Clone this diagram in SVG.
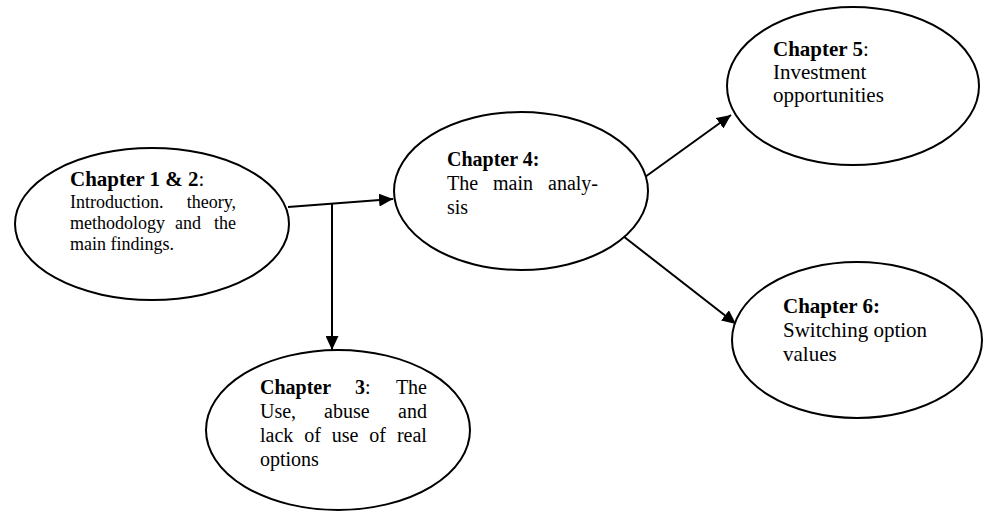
<svg xmlns="http://www.w3.org/2000/svg" width="984" height="513" viewBox="0 0 984 513">
<defs>
<style>
.node ellipse{fill:#fff;stroke:#000;stroke-width:2}
text{font-family:"Liberation Serif","Times New Roman",serif;fill:#000}
.b{font-weight:bold}
.s17{font-size:18px}
.s20{font-size:20px}
.s21{font-size:21px}
.e{text-anchor:end}
#connectors path{fill:none;stroke:#000;stroke-width:2}
</style>
<marker id="arr" markerUnits="userSpaceOnUse" markerWidth="15" markerHeight="13" refX="14" refY="6.5" orient="auto">
<path d="M0,0 L14,6.5 L0,13 z" fill="#000"/>
</marker>
</defs>
<rect width="984" height="513" fill="#fff"/>
<g id="connectors">
<path d="M288,207 L393,199" marker-end="url(#arr)"/>
<path d="M332,204 L332,350" marker-end="url(#arr)"/>
<path d="M645,177 L731,115" marker-end="url(#arr)"/>
<path d="M623,236 L736,324" marker-end="url(#arr)"/>
</g>
<g id="ch12" class="node">
<ellipse cx="152" cy="224" rx="137" ry="76"/>
<text x="70" y="186" class="s21"><tspan class="b">Chapter 1 &amp; 2</tspan>:</text>
<text x="70" y="208" class="s17">Introduction.</text>
<text x="236" y="208" class="s17 e">theory,</text>
<text x="70" y="229" class="s17">methodology</text>
<text x="175" y="229" class="s17">and</text>
<text x="236" y="229" class="s17 e">the</text>
<text x="70" y="250" class="s17">main findings.</text>
</g>
<g id="ch3" class="node">
<ellipse cx="338" cy="430" rx="132" ry="80"/>
<text x="260" y="394" class="s20 b">Chapter</text>
<text x="355" y="394" class="s20"><tspan class="b">3</tspan>:</text>
<text x="427" y="394" class="s20 e">The</text>
<text x="260" y="418" class="s20">Use,</text>
<text x="324" y="418" class="s20">abuse</text>
<text x="427" y="418" class="s20 e">and</text>
<text x="260" y="442" class="s20" word-spacing="5.9">lack of use of real</text>
<text x="260" y="466" class="s20">options</text>
</g>
<g id="ch4" class="node">
<ellipse cx="521" cy="191" rx="127" ry="79"/>
<text x="447" y="166" class="s20 b">Chapter 4:</text>
<text x="447" y="190" class="s20">The</text>
<text x="493" y="190" class="s20">main</text>
<text x="598" y="190" class="s20 e">analy-</text>
<text x="447" y="214" class="s20">sis</text>
</g>
<g id="ch5" class="node">
<ellipse cx="853" cy="86" rx="126" ry="79"/>
<text x="773" y="56" class="s21"><tspan class="b">Chapter 5</tspan>:</text>
<text x="773" y="79" class="s21">Investment</text>
<text x="773" y="102" class="s21">opportunities</text>
</g>
<g id="ch6" class="node">
<ellipse cx="857" cy="340" rx="125" ry="78"/>
<text x="783" y="313" class="s21 b">Chapter 6:</text>
<text x="783" y="337" class="s21">Switching option</text>
<text x="783" y="361" class="s21">values</text>
</g>
</svg>
